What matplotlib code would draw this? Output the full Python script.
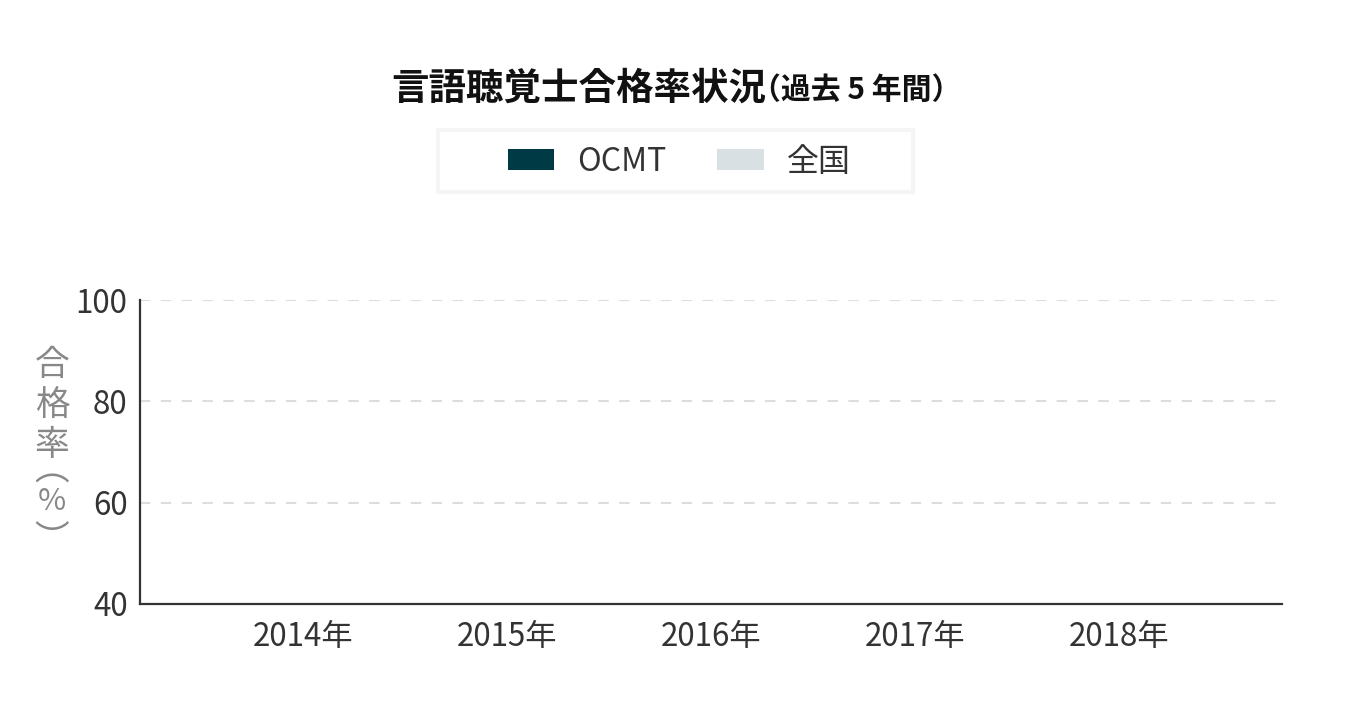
import numpy as np
import matplotlib
matplotlib.use("Agg")
import matplotlib.pyplot as plt
from matplotlib.patches import Rectangle, Patch

plt.rcParams['font.family'] = ['Noto Sans CJK JP', 'DejaVu Sans']

# ---- data ----
categories = ["2014年", "2015年", "2016年", "2017年", "2018年"]
series_names = ["OCMT", "全国"]
# No bars are visible in the reference chart (values not readable)
ocmt_values = [None, None, None, None, None]
national_values = [None, None, None, None, None]
yticks = [40, 60, 80, 100]
colors = ["#003a45", "#d8e0e3"]

W, H = 1350, 714
fig = plt.figure(figsize=(W / 100, H / 100), dpi=100)
fig.patch.set_facecolor("white")

def px(x, y):
    return x / W, 1 - y / H

ax_l, ax_r, ax_t, ax_b = 140, 1282, 300, 604
ax = fig.add_axes([ax_l / W, 1 - ax_b / H, (ax_r - ax_l) / W, (ax_b - ax_t) / H])

x = np.arange(len(categories))
bw = 0.3
ocmt = np.array([np.nan if v is None else v for v in ocmt_values], dtype=float)
nat = np.array([np.nan if v is None else v for v in national_values], dtype=float)
ax.bar(x - bw / 2, ocmt, bw, color=colors[0], label=series_names[0])
ax.bar(x + bw / 2, nat, bw, color=colors[1], label=series_names[1])

ax.set_xlim(-0.8, len(categories) - 0.2)
ax.set_ylim(40, 100)
ax.set_yticks(yticks)
ax.set_xticks(x)
ax.set_xticklabels(categories)
ax.tick_params(axis='both', length=0, labelsize=22.5, colors="#333333")
ax.tick_params(axis='y', pad=9)
ax.tick_params(axis='x', pad=12)

for s in ["top", "right"]:
    ax.spines[s].set_visible(False)
for s in ["left", "bottom"]:
    ax.spines[s].set_color("#333333")
    ax.spines[s].set_linewidth(1.6)

for v in yticks[1:]:
    ax.axhline(v, color="#dddddd", lw=1.5, dashes=(5, 5), zorder=0)

# y-axis label (vertical writing, one glyph per line)
ylab_color = "#888888"
for ch, yy in [("合", 366), ("格", 406), ("率", 446)]:
    fig.text(*px(52, yy), ch, ha="center", va="center", fontsize=25, color=ylab_color)
fig.text(*px(52, 470), "︵", ha="center", va="center", fontsize=25, color=ylab_color)
fig.text(*px(52, 502), "%", ha="center", va="center", fontsize=22, color=ylab_color)
fig.text(*px(52, 540), "︶", ha="center", va="center", fontsize=25, color=ylab_color)

# title
fig.text(*px(766, 88), "言語聴覚士合格率状況", ha="right", va="center",
         fontsize=27, fontweight="bold", color="#111111")
fig.text(*px(751, 90), "（過去 5 年間）", ha="left", va="center",
         fontsize=21.5, fontweight="bold", color="#111111")

# legend frame
fig.patches.append(Rectangle(px(438, 192), (913 - 438) / W, (192 - 130) / H,
                             transform=fig.transFigure, fill=False,
                             edgecolor="#f5f5f5", lw=3))
handles = [Patch(facecolor=colors[0]), Patch(facecolor=colors[1])]
fig.legend(handles, series_names, loc="center", bbox_to_anchor=px(679, 162),
           ncol=2, frameon=False, fontsize=23, handlelength=1.47,
           handleheight=0.63, handletextpad=0.7, columnspacing=1.6,
           labelcolor="#333333")

fig.savefig("out.png", dpi=100)
